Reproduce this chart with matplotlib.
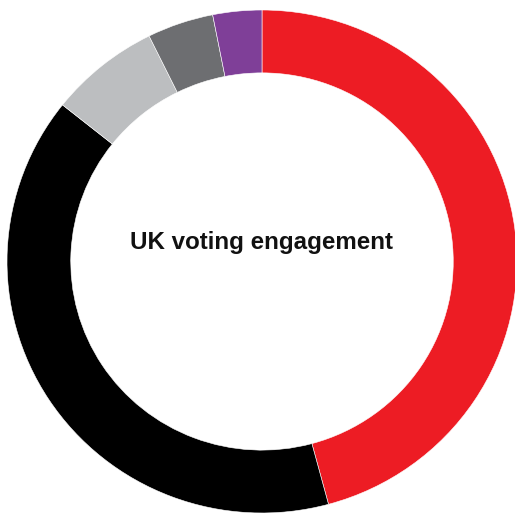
import matplotlib
matplotlib.use("Agg")
import matplotlib.pyplot as plt

# Share of each group (percent), clockwise from 12 o'clock
categories = ["Group A", "Group B", "Group C", "Group D", "Group E"]
values = [45.8, 39.9, 7.0, 4.2, 3.1]
colors = ["#ED1C24", "#000000", "#BCBEC0", "#6D6E71", "#7F3F98"]
title = "UK voting engagement"

W = H = 515
dpi = 100
cx, cy = 262, 261.5   # pixel centre of the ring
rx, ry = 255, 251.5   # pixel radii (horizontal, vertical)

fig = plt.figure(figsize=(W / dpi, H / dpi), dpi=dpi)
ax = fig.add_axes([0, 0, 1, 1])
ax.pie(values, colors=colors, startangle=90, counterclock=False, radius=1.0,
       wedgeprops=dict(width=0.25, edgecolor="white", linewidth=0.4))
ax.set_aspect("auto")
ax.set_xlim(-cx / rx, (W - cx) / rx)
ax.set_ylim(-(H - cy) / ry, cy / ry)
ax.axis("off")

ax.text(0, (cy - 243) / ry, title, ha="center", va="center",
        fontsize=17.4, fontweight="bold", family="Liberation Sans", color="#111111")

fig.savefig("out.png", dpi=dpi, facecolor="white")
